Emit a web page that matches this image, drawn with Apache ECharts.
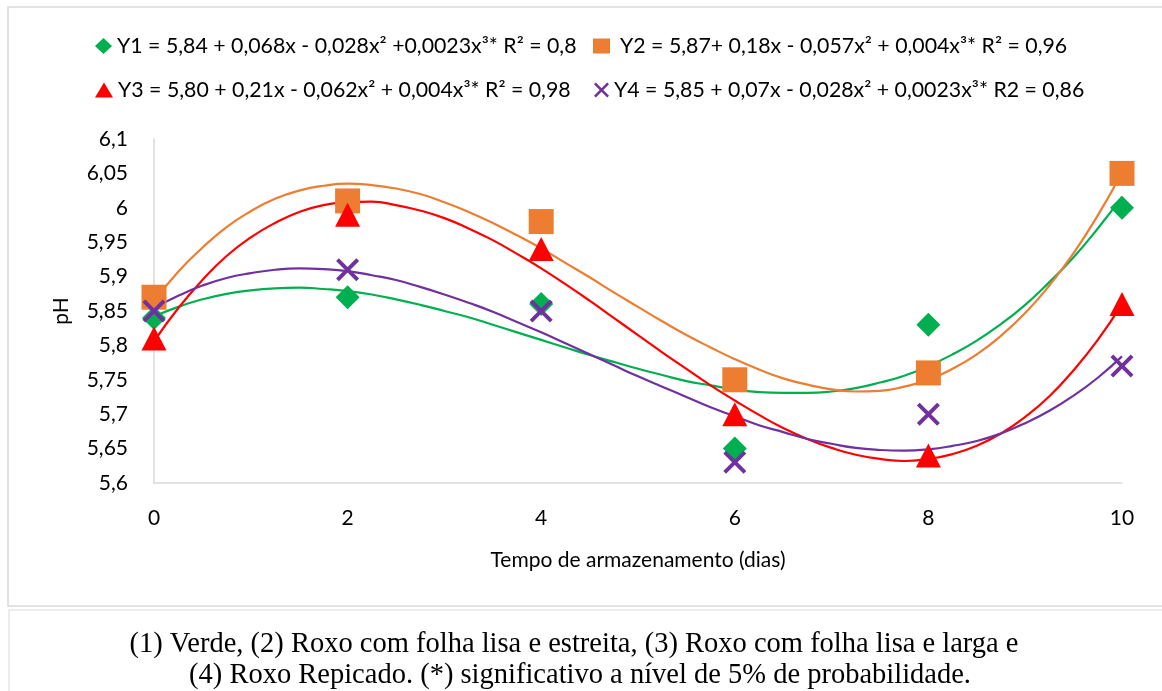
<!DOCTYPE html>
<html>
<head>
<meta charset="utf-8">
<script src="https://cdn.jsdelivr.net/npm/echarts@6/dist/echarts.min.js"></script>
<style>
  html, body { margin: 0; padding: 0; background: #ffffff; }
  #chart { width: 1162px; height: 691px; }
</style>
</head>
<body>
<div id="chart"></div>
<script>
// ---- observed data (days of storage vs pH) ----
const xDays = [0, 2, 4, 6, 8, 10];
const y1Obs = [5.84, 5.87, 5.86, 5.65, 5.83, 6.00];
const y2Obs = [5.87, 6.01, 5.98, 5.75, 5.76, 6.05];
const y3Obs = [5.81, 5.99, 5.94, 5.70, 5.64, 5.86];
const y4Obs = [5.85, 5.91, 5.85, 5.63, 5.70, 5.77];

// ---- trend curves, every quarter day ----
const xFit = [0, 0.25, 0.5, 0.75, 1, 1.25, 1.5, 1.75, 2, 2.25, 2.5, 2.75, 3, 3.25, 3.5, 3.75, 4, 4.25, 4.5, 4.75,
              5, 5.25, 5.5, 5.75, 6, 6.25, 6.5, 6.75, 7, 7.25, 7.5, 7.75, 8, 8.25, 8.5, 8.75, 9, 9.25, 9.5, 9.75, 10];
const y1Fit = [5.842, 5.856, 5.867, 5.875, 5.880, 5.883, 5.884, 5.882, 5.879, 5.874, 5.867, 5.859, 5.850, 5.841,
               5.830, 5.819, 5.808, 5.797, 5.786, 5.776, 5.766, 5.757, 5.748, 5.742, 5.736, 5.732, 5.731, 5.731,
               5.733, 5.738, 5.746, 5.756, 5.770, 5.787, 5.807, 5.831, 5.859, 5.892, 5.928, 5.970, 6.016];
const y2Fit = [5.864, 5.907, 5.942, 5.972, 5.995, 6.013, 6.025, 6.032, 6.035, 6.033, 6.028, 6.020, 6.008, 5.994,
               5.978, 5.960, 5.941, 5.920, 5.899, 5.877, 5.856, 5.835, 5.815, 5.797, 5.780, 5.765, 5.752, 5.743,
               5.736, 5.733, 5.734, 5.740, 5.750, 5.766, 5.787, 5.814, 5.847, 5.887, 5.934, 5.989, 6.051];
const y3Fit = [5.806, 5.854, 5.895, 5.930, 5.957, 5.978, 5.994, 6.004, 6.008, 6.009, 6.004, 5.996, 5.985, 5.970,
               5.953, 5.933, 5.912, 5.889, 5.865, 5.840, 5.815, 5.790, 5.766, 5.742, 5.720, 5.699, 5.680, 5.664,
               5.651, 5.641, 5.635, 5.632, 5.635, 5.642, 5.654, 5.672, 5.696, 5.726, 5.764, 5.808, 5.860];
const y4Fit = [5.854, 5.872, 5.887, 5.898, 5.905, 5.910, 5.912, 5.911, 5.908, 5.902, 5.895, 5.885, 5.874, 5.862,
               5.849, 5.834, 5.819, 5.803, 5.787, 5.771, 5.755, 5.740, 5.725, 5.710, 5.697, 5.684, 5.674, 5.664,
               5.657, 5.651, 5.648, 5.647, 5.649, 5.654, 5.661, 5.672, 5.687, 5.705, 5.727, 5.753, 5.784];

// ---- labels ----
const seriesNames = [
  'Y1 = 5,84 + 0,068x - 0,028x² +0,0023x³* R² = 0,8',
  'Y2 = 5,87+ 0,18x - 0,057x² + 0,004x³* R² = 0,96',
  'Y3 = 5,80 + 0,21x - 0,062x² + 0,004x³* R² = 0,98',
  'Y4 = 5,85 + 0,07x - 0,028x² + 0,0023x³* R2 = 0,86'
];
const xAxisTitle = 'Tempo de armazenamento (dias)';
const yAxisTitle = 'pH';
const captionLines = [
  '(1) Verde, (2) Roxo com folha lisa e estreita, (3) Roxo com folha lisa e larga e',
  '(4) Roxo Repicado. (*) significativo a nível de 5% de probabilidade.'
];

const colors = ['#00B050', '#ED7D31', '#FF0000', '#7030A0'];
const xPath = 'path://M2.4,0 L10,7.6 L17.6,0 L20,2.4 L12.4,10 L20,17.6 L17.6,20 L10,12.4 L2.4,20 L0,17.6 L7.6,10 L0,2.4 Z';
const symbols = ['diamond', 'rect', 'triangle', xPath];
const symbolSizes = [[24, 24], [25, 25], [25, 24], [23, 23]];
const legendIcons = [
  { icon: 'diamond', w: 17, h: 16, left: 95, top: 35 },
  { icon: 'rect', w: 17, h: 15, left: 593, top: 35, pad: 5 },
  { icon: 'triangle', w: 18, h: 15, left: 95, top: 79 },
  { icon: xPath, w: 15, h: 15, left: 594, top: 79 }
];

const obs = [y1Obs, y2Obs, y3Obs, y4Obs];
const fits = [y1Fit, y2Fit, y3Fit, y4Fit];

const FONT = 'Lato';
const series = [];
fits.forEach((f, i) => {
  series.push({
    name: 'trend' + (i + 1),
    type: 'line',
    data: xFit.map((x, k) => [x, f[k]]),
    smooth: true,
    showSymbol: false,
    symbol: 'none',
    lineStyle: { color: colors[i], width: 2.2 },
    z: 2,
    silent: true
  });
});
obs.forEach((o, i) => {
  series.push({
    name: seriesNames[i],
    type: 'scatter',
    data: xDays.map((x, k) => [x, o[k]]),
    symbol: symbols[i],
    symbolSize: symbolSizes[i],
    itemStyle: { color: colors[i], opacity: 1 },
    z: 3 + i
  });
});

const legends = legendIcons.map((L, i) => ({
  data: [{ name: seriesNames[i], icon: L.icon }],
  left: L.left,
  top: L.top,
  itemWidth: L.w,
  itemHeight: L.h,
  selectedMode: false,
  padding: 0,
  textStyle: {
    fontFamily: FONT, fontSize: 21.3, color: '#000', lineHeight: 22,
    padding: [0, 0, 0, L.pad || 0]
  }
}));

const chart = echarts.init(document.getElementById('chart'), null, { renderer: 'canvas' });
chart.setOption({
  backgroundColor: '#ffffff',
  animation: false,
  color: colors,
  legend: legends,
  grid: { left: 154, right: 40, top: 139, bottom: 208, containLabel: false },
  xAxis: {
    type: 'value',
    min: 0, max: 10, interval: 2,
    name: xAxisTitle,
    nameLocation: 'middle',
    nameGap: 67,
    nameTextStyle: { fontFamily: FONT, fontSize: 21, color: '#000' },
    axisLine: { show: true, lineStyle: { color: '#d9d9d9', width: 1.5 } },
    axisTick: { show: false },
    splitLine: { show: false },
    axisLabel: { fontFamily: FONT, fontSize: 21, color: '#000', margin: 25 }
  },
  yAxis: {
    type: 'value',
    min: 5.6, max: 6.1, interval: 0.05,
    name: yAxisTitle,
    nameLocation: 'middle',
    nameGap: 82,
    nameRotate: 90,
    nameTextStyle: { fontFamily: FONT, fontSize: 21, color: '#000' },
    axisLine: { show: true, lineStyle: { color: '#d9d9d9', width: 1.5 } },
    axisTick: { show: false },
    splitLine: { show: false },
    axisLabel: {
      fontFamily: FONT, fontSize: 21, color: '#000', margin: 26,
      formatter: v => String(Math.round(v * 100) / 100).replace('.', ',')
    }
  },
  graphic: [
    { type: 'rect', shape: { x: 8, y: 7, width: 1170, height: 599 },
      style: { fill: 'none', stroke: '#d9d9d9', lineWidth: 1.5 }, silent: true, z: -1 },
    { type: 'line', shape: { x1: 9, y1: 610, x2: 1170, y2: 610 },
      style: { stroke: '#e6e6e6', lineWidth: 1.5 }, silent: true },
    { type: 'line', shape: { x1: 9, y1: 610, x2: 9, y2: 700 },
      style: { stroke: '#e6e6e6', lineWidth: 1.5 }, silent: true },
    { type: 'text', x: 574, y: 645,
      style: { text: captionLines[0], fontFamily: 'Liberation Serif', fontSize: 28.5, fill: '#000',
               textAlign: 'center', textVerticalAlign: 'middle' } },
    { type: 'text', x: 580, y: 676,
      style: { text: captionLines[1], fontFamily: 'Liberation Serif', fontSize: 28.5, fill: '#000',
               textAlign: 'center', textVerticalAlign: 'middle' } }
  ],
  series: series
});
</script>
</body>
</html>
